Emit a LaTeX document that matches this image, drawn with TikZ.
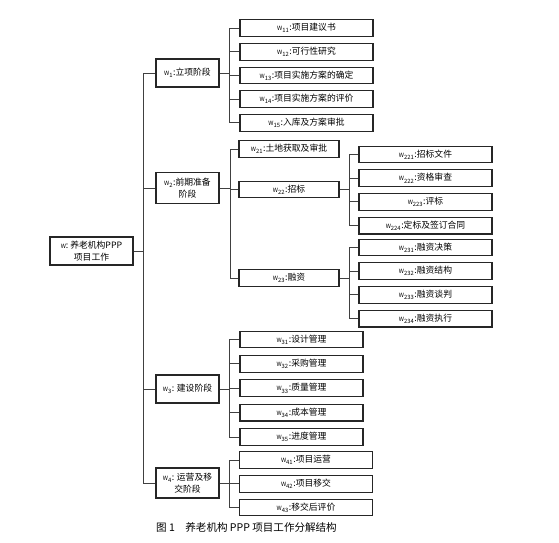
\documentclass[tikz,border=0pt]{standalone}
\usepackage{fontspec}
\newfontfamily\cjk{Noto Sans CJK SC}
\usetikzlibrary{positioning}
\newcommand{\wn}[1]{{\fontsize{5}{6}\selectfont W\textsubscript{#1}}:}

\begin{document}
\begin{tikzpicture}[
        x=0.03cm, y=-0.03cm,
        node distance=0.18cm,
        every node/.style={font=\cjk\fontsize{7.5}{10}\selectfont},
        rootbox/.style={rectangle, draw=black!85, line width=0.9pt, minimum width=2.49cm, minimum height=0.84cm, align=center, inner sep=2pt},
        stage/.style={rectangle, draw=black!85, line width=0.9pt, minimum width=1.89cm, minimum height=0.84cm, align=center, inner sep=2pt},
        sub/.style={rectangle, draw=black!85, line width=0.9pt, minimum width=3.0cm, minimum height=0.5cm, inner sep=1pt},
        task/.style={rectangle, draw=black!85, line width=0.9pt, minimum width=3.99cm, minimum height=0.5cm, inner sep=1pt},
        link/.style={draw=black!75, line width=0.8pt}
    ]
    \useasboundingbox (0,0) rectangle (559,543);

    % Root and stages
    \node[rootbox] (root) at (91.5,251) {{\fontsize{5}{6}\selectfont W}: 养老机构PPP\\项目工作};
    \node[stage] (w1) at (187.5,73) {\wn{1}立项阶段};
    \node[stage, minimum height=0.93cm] (w2) at (187.5,188) {\wn{2}前期准备\\阶段};
    \node[stage] (w3) at (187.5,389) {\wn{3} 建设阶段};
    \node[stage, minimum height=0.9cm] (w4) at (187.5,483) {\wn{4} 运营及移\\交阶段};

    % W1 tasks
    \node[task] (w11) at (306.5,28) {\wn{11}项目建议书};
    \node[task] (w12) [below=of w11] {\wn{12}可行性研究};
    \node[task] (w13) [below=of w12] {\wn{13}项目实施方案的确定};
    \node[task] (w14) [below=of w13] {\wn{14}项目实施方案的评价};
    \node[task] (w15) [below=of w14] {\wn{15}入库及方案审批};

    % W2 tasks
    \node[sub] (w21) at (289,149) {\wn{21}土地获取及审批};
    \node[sub] (w22) at (289,189.5) {\wn{22}招标};
    \node[sub] (w23) at (289,278) {\wn{23}融资};

    \node[task] (w221) at (425.5,154.5) {\wn{221}招标文件};
    \node[task] (w222) [below=of w221] {\wn{222}资格审查};
    \node[task] (w223) [below=of w222] {\wn{223}评标};
    \node[task] (w224) [below=of w223] {\wn{224}定标及签订合同};

    \node[task] (w231) at (425.5,247.5) {\wn{231}融资决策};
    \node[task] (w232) [below=of w231] {\wn{232}融资结构};
    \node[task] (w233) [below=of w232] {\wn{233}融资谈判};
    \node[task] (w234) [below=of w233] {\wn{234}融资执行};

    % W3 tasks
    \node[task, minimum width=3.69cm] (w31) at (301.5,339.5) {\wn{31}设计管理};
    \node[task, minimum width=3.69cm] (w32) [below=0.2cm of w31] {\wn{32}采购管理};
    \node[task, minimum width=3.69cm] (w33) [below=0.2cm of w32] {\wn{33}质量管理};
    \node[task, minimum width=3.69cm] (w34) [below=0.2cm of w33] {\wn{34}成本管理};
    \node[task, minimum width=3.69cm] (w35) [below=0.2cm of w34] {\wn{35}进度管理};

    % W4 tasks
    \node[task] (w41) at (306,460) {\wn{41}项目运营};
    \node[task] (w42) [below=of w41] {\wn{42}项目移交};
    \node[task] (w43) [below=of w42] {\wn{43}移交后评价};

    \node[anchor=west, font=\cjk\fontsize{9}{11}\selectfont] (cap) at (152,527) {图 1\quad 养老机构 PPP 项目工作分解结构};

    % Connections
    \draw[link] (root.east) -- ++(10,0) coordinate (t0)
        (t0) |- (w1.west) (t0) |- (w2.west) (t0) |- (w3.west) (t0) |- (w4.west);
    \draw[link] (w1.east) -- ++(10,0) coordinate (t1)
        (t1) |- (w11.west) (t1) |- (w12.west) (t1) |- (w13.west) (t1) |- (w14.west) (t1) |- (w15.west);
    \draw[link] (w2.east) -- ++(11,0) coordinate (t2)
        (t2) |- (w21.west) (t2) |- (w22.west) (t2) |- (w23.west);
    \draw[link] (w22.east) -- ++(10,0) coordinate (t22)
        (t22) |- (w221.west) (t22) |- (w222.west) (t22) |- (w223.west) (t22) |- (w224.west);
    \draw[link] (w23.east) -- ++(10,0) coordinate (t23)
        (t23) |- (w231.west) (t23) |- (w232.west) (t23) |- (w233.west) (t23) |- (w234.west);
    \draw[link] (w3.east) -- ++(10,0) coordinate (t3)
        (t3) |- (w31.west) (t3) |- (w32.west) (t3) |- (w33.west) (t3) |- (w34.west) (t3) |- (w35.west);
    \draw[link] (w4.east) -- ++(10,0) coordinate (t4)
        (t4) |- (w41.west) (t4) |- (w42.west) (t4) |- (w43.west);

\end{tikzpicture}
\end{document}
